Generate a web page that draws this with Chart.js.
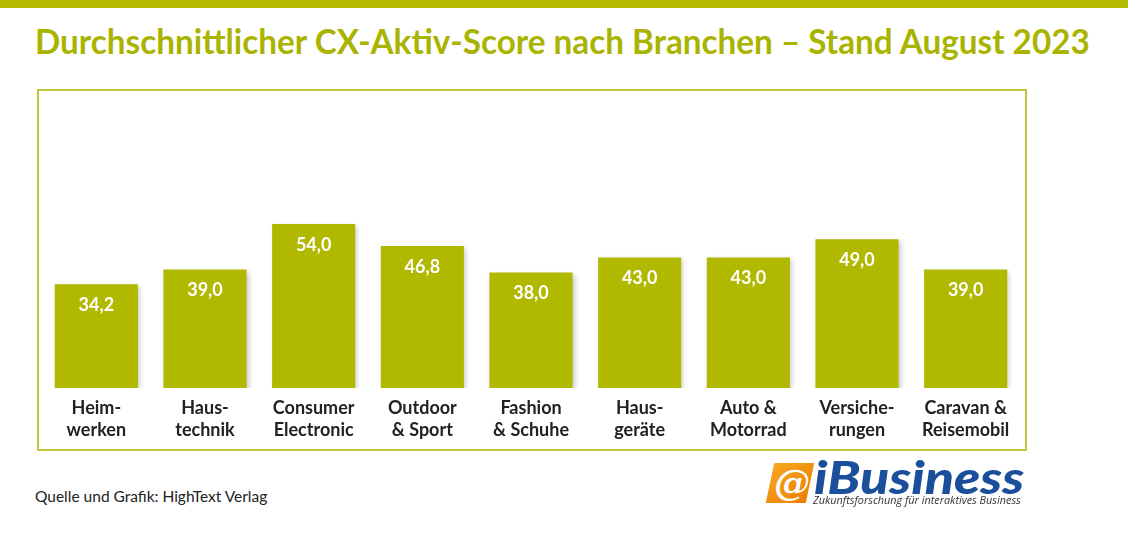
<!DOCTYPE html>
<html>
<head>
<meta charset="utf-8">
<script src="https://cdn.jsdelivr.net/npm/chart.js@4"></script>
<style>
  body { margin: 0; width: 1128px; height: 535px; background: #fff; position: relative; overflow: hidden; font-family: Lato, sans-serif; }
  #band { position: absolute; left: 0; top: 0; width: 1128px; height: 8px; background: #b4ba00; }
  #title { position: absolute; left: 35px; top: 19px; font-size: 35px; font-weight: bold; color: #a9b400; white-space: nowrap; transform-origin: 0 0; }
  #frame { position: absolute; left: 37px; top: 89px; width: 986px; height: 358px; border: 2px solid #c0c537; }
  #wrap { position: absolute; left: 37px; top: 89px; width: 990px; height: 362px; }
  #source { position: absolute; left: 35px; top: 487px; font-size: 15.5px; color: #222; }
  #logo { position: absolute; left: 766px; top: 460px; width: 262px; height: 46px; }
  #logo .badge { position: absolute; left: 4px; top: 3px; width: 40px; height: 40px; background: linear-gradient(135deg, #f7a823, #ec7d00); transform: skewX(-12deg); }
  #logo .at { position: absolute; left: 8px; top: 2px; width: 36px; font: italic bold 36px 'DejaVu Serif', serif; color: #fff; text-align: center; line-height: 40px; }
  #logo .name { position: absolute; left: 48px; top: -10px; font: italic 900 45px Lato, sans-serif; color: #1b4e9b; white-space: nowrap; transform-origin: 0 0; }
  #logo .tag { position: absolute; left: 47px; top: 32px; font: italic 11px 'Open Sans', sans-serif; color: #333; white-space: nowrap; transform-origin: 0 0; }
</style>
</head>
<body>
<div id="band"></div>
<div id="title">Durchschnittlicher CX-Aktiv-Score nach Branchen – Stand August 2023</div>
<div id="frame"></div>
<div id="wrap"><canvas id="chart"></canvas></div>
<div id="source">Quelle und Grafik: HighText Verlag</div>
<div id="logo">
  <div class="badge"></div>
  <div class="at">@</div>
  <div class="name">iBusiness</div>
  <div class="tag">Zukunftsforschung für interaktives Business</div>
</div>
<script>
const categories = [
  ['Heim-', 'werken'],
  ['Haus-', 'technik'],
  ['Consumer', 'Electronic'],
  ['Outdoor', '& Sport'],
  ['Fashion', '& Schuhe'],
  ['Haus-', 'geräte'],
  ['Auto &', 'Motorrad'],
  ['Versiche-', 'rungen'],
  ['Caravan &', 'Reisemobil']
];
const scores = [34.2, 39.0, 54.0, 46.8, 38.0, 43.0, 43.0, 49.0, 39.0];
const yMax = 80;

const barGreen = '#b0b800';

// squeeze text blocks to the widths they have in the original
function fitWidth(el, width) {
  el.style.transform = 'scaleX(' + (width / el.offsetWidth) + ')';
}
fitWidth(document.getElementById('title'), 1055);
fitWidth(document.querySelector('#logo .name'), 210);
fitWidth(document.querySelector('#logo .tag'), 208);

// soft shadow under the bars
const barShadow = {
  id: 'barShadow',
  beforeDatasetsDraw(chart) {
    const ctx = chart.ctx;
    ctx.save();
    ctx.shadowColor = 'rgba(0, 0, 0, 0.22)';
    ctx.shadowBlur = 5;
    ctx.shadowOffsetX = 2;
    ctx.shadowOffsetY = 2;
  },
  afterDatasetsDraw(chart) {
    chart.ctx.restore();
  }
};

// value labels inside the top of each bar
const valueLabels = {
  id: 'valueLabels',
  afterDatasetsDraw(chart) {
    const ctx = chart.ctx;
    const meta = chart.getDatasetMeta(0);
    ctx.save();
    ctx.fillStyle = '#fff';
    ctx.font = 'bold 18px Lato';
    ctx.textAlign = 'center';
    ctx.textBaseline = 'middle';
    meta.data.forEach((bar, i) => {
      ctx.fillText(scores[i].toFixed(1).replace('.', ','), bar.x, bar.y + 21);
    });
    ctx.restore();
  }
};

new Chart(document.getElementById('chart'), {
  type: 'bar',
  data: {
    labels: categories,
    datasets: [{
      data: scores,
      backgroundColor: barGreen,
      borderWidth: 0,
      categoryPercentage: 1,
      barPercentage: 0.765
    }]
  },
  options: {
    responsive: true,
    maintainAspectRatio: false,
    animation: false,
    layout: { padding: { left: 5, right: 7, top: 56, bottom: 1 } },
    scales: {
      x: {
        grid: { display: false, drawTicks: false },
        border: { display: false },
        ticks: {
          color: '#222',
          padding: 9,
          font: { family: 'Lato', size: 18, weight: 'bold', lineHeight: 1.22 },
          maxRotation: 0,
          autoSkip: false
        }
      },
      y: {
        display: false,
        min: 0,
        max: yMax
      }
    },
    plugins: {
      legend: { display: false },
      tooltip: { enabled: false }
    }
  },
  plugins: [barShadow, valueLabels]
});
</script>
</body>
</html>
